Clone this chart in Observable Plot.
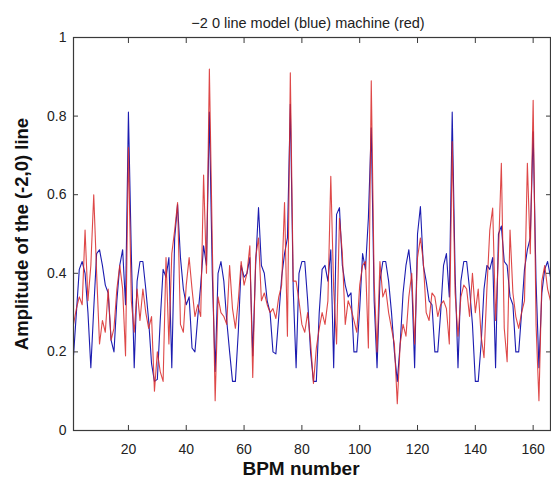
<!DOCTYPE html>
<html>
<head>
<meta charset="utf-8">
<script src="https://cdn.jsdelivr.net/npm/d3@7"></script>
<script src="https://cdn.jsdelivr.net/npm/@observablehq/plot@0.6"></script>
<style>
  html, body { margin: 0; padding: 0; background: #fff; }
  #chart svg { display: block; }
</style>
</head>
<body>
<div id="chart"></div>
<script>
// BPM numbers 1..166
const bpm = Array.from({length: 166}, (_, i) => i + 1);

// Model (blue)
const model = [
  0.19, 0.30, 0.41, 0.43, 0.40, 0.30, 0.16, 0.31, 0.45, 0.46,
  0.42, 0.37, 0.35, 0.23, 0.20, 0.33, 0.42, 0.46, 0.32, 0.81,
  0.45, 0.16, 0.38, 0.43, 0.43, 0.36, 0.28, 0.17, 0.125, 0.13,
  0.28, 0.41, 0.39, 0.44, 0.16, 0.49, 0.575, 0.44, 0.36, 0.32,
  0.34, 0.21, 0.20, 0.29, 0.37, 0.47, 0.42, 0.81, 0.40, 0.15,
  0.40, 0.43, 0.38, 0.28, 0.20, 0.125, 0.125, 0.25, 0.42, 0.39,
  0.40, 0.44, 0.19, 0.42, 0.567, 0.42, 0.40, 0.33, 0.30, 0.20,
  0.195, 0.29, 0.39, 0.45, 0.49, 0.83, 0.36, 0.16, 0.40, 0.43,
  0.43, 0.33, 0.20, 0.125, 0.125, 0.30, 0.41, 0.42, 0.38, 0.46,
  0.16, 0.55, 0.567, 0.42, 0.37, 0.34, 0.35, 0.20, 0.20, 0.31,
  0.45, 0.41, 0.54, 0.77, 0.33, 0.16, 0.38, 0.43, 0.43, 0.38,
  0.30, 0.20, 0.125, 0.22, 0.35, 0.42, 0.46, 0.38, 0.16, 0.50,
  0.57, 0.42, 0.38, 0.33, 0.32, 0.20, 0.20, 0.30, 0.42, 0.45,
  0.34, 0.81, 0.40, 0.16, 0.38, 0.43, 0.43, 0.36, 0.27, 0.125,
  0.125, 0.22, 0.36, 0.42, 0.41, 0.44, 0.16, 0.50, 0.52, 0.43,
  0.42, 0.34, 0.32, 0.20, 0.20, 0.30, 0.41, 0.46, 0.49, 0.76,
  0.38, 0.16, 0.35, 0.41, 0.43, 0.39
];

// Machine (red)
const machine = [
  0.27, 0.31, 0.34, 0.32, 0.51, 0.33, 0.42, 0.60, 0.40, 0.22,
  0.28, 0.25, 0.36, 0.23, 0.26, 0.36, 0.42, 0.36, 0.19, 0.72,
  0.33, 0.25, 0.36, 0.28, 0.36, 0.30, 0.26, 0.29, 0.10, 0.20,
  0.15, 0.125, 0.44, 0.22, 0.45, 0.51, 0.58, 0.27, 0.25, 0.37,
  0.44, 0.36, 0.29, 0.32, 0.29, 0.65, 0.40, 0.92, 0.48, 0.076,
  0.34, 0.30, 0.29, 0.27, 0.42, 0.31, 0.26, 0.33, 0.43, 0.37,
  0.40, 0.47, 0.135, 0.44, 0.49, 0.33, 0.35, 0.32, 0.30, 0.31,
  0.285, 0.34, 0.37, 0.58, 0.24, 0.91, 0.38, 0.38, 0.33, 0.27,
  0.25, 0.30, 0.225, 0.12, 0.21, 0.26, 0.30, 0.27, 0.33, 0.647,
  0.36, 0.22, 0.54, 0.45, 0.27, 0.33, 0.31, 0.28, 0.25, 0.37,
  0.42, 0.43, 0.21, 0.89, 0.38, 0.20, 0.43, 0.34, 0.36, 0.30,
  0.26, 0.22, 0.068, 0.22, 0.27, 0.24, 0.34, 0.40, 0.22, 0.44,
  0.49, 0.43, 0.30, 0.28, 0.35, 0.34, 0.29, 0.32, 0.33, 0.31,
  0.22, 0.735, 0.35, 0.24, 0.34, 0.37, 0.36, 0.29, 0.40, 0.30,
  0.36, 0.24, 0.185, 0.36, 0.51, 0.566, 0.28, 0.45, 0.68, 0.26,
  0.175, 0.51, 0.35, 0.29, 0.26, 0.30, 0.33, 0.68, 0.45, 0.84,
  0.27, 0.076, 0.38, 0.42, 0.36, 0.33
];

const xTicks = [20, 40, 60, 80, 100, 120, 140, 160];
const yTicks = [0, 0.2, 0.4, 0.6, 0.8, 1];
const yTickLabels = ["0", "0.2", "0.4", "0.6", "0.8", "1"];

const titleText = "\u22122 0 line model (blue) machine (red)";
const xLabel = "BPM number";
const yLabel = "Amplitude of the (-2,0) line";

const modelData = bpm.map((b, i) => ({bpm: b, v: model[i]}));
const machineData = bpm.map((b, i) => ({bpm: b, v: machine[i]}));

const font = "'Liberation Sans', Arial, Helvetica, sans-serif";
const axisColor = "#3a3a3a";

const chart = Plot.plot({
  width: 551,
  height: 479,
  marginLeft: 73,
  marginRight: 1,
  marginTop: 37,
  marginBottom: 49,
  style: {fontFamily: font, fontSize: "14px", color: "#222", background: "#fff"},
  x: {domain: [1, 166]},
  y: {domain: [0, 1]},
  marks: [
    Plot.line(modelData, {x: "bpm", y: "v", stroke: "#1c1cb0", strokeWidth: 1.1}),
    Plot.line(machineData, {x: "bpm", y: "v", stroke: "#d82828", strokeWidth: 1.1, strokeOpacity: 0.85}),
    Plot.frame({stroke: axisColor, strokeWidth: 1.2}),
    // inward tick marks
    Plot.axisX(xTicks, {anchor: "bottom", tickSize: -5, text: null, label: null, stroke: axisColor}),
    Plot.axisX(xTicks, {anchor: "top", tickSize: -5, text: null, label: null, stroke: axisColor}),
    Plot.axisY(yTicks, {anchor: "left", tickSize: -5, text: null, label: null, stroke: axisColor}),
    Plot.axisY(yTicks, {anchor: "right", tickSize: -5, text: null, label: null, stroke: axisColor}),
    // tick labels
    Plot.axisX(xTicks, {anchor: "bottom", tickSize: 0, tickPadding: 14, label: null, fontSize: 14, fill: "#222"}),
    Plot.axisY(yTicks, {anchor: "left", tickSize: 0, tickPadding: 7, label: null, fontSize: 14, fill: "#222",
      tickFormat: (d) => yTickLabels[yTicks.indexOf(d)]}),
    // title and axis labels
    Plot.text([titleText], {frameAnchor: "top", dy: -20, dx: -4, fontSize: 14.5, fill: "#222"}),
    Plot.text([xLabel], {frameAnchor: "bottom", dy: 44, dx: -11, fontSize: 19, fontWeight: "bold", fill: "#111"}),
    Plot.text([yLabel], {frameAnchor: "left", textAnchor: "middle", rotate: -90, dx: -51, fontSize: 18.5, fontWeight: "bold", fill: "#111"})
  ]
});

document.getElementById("chart").appendChild(chart);
</script>
</body>
</html>
